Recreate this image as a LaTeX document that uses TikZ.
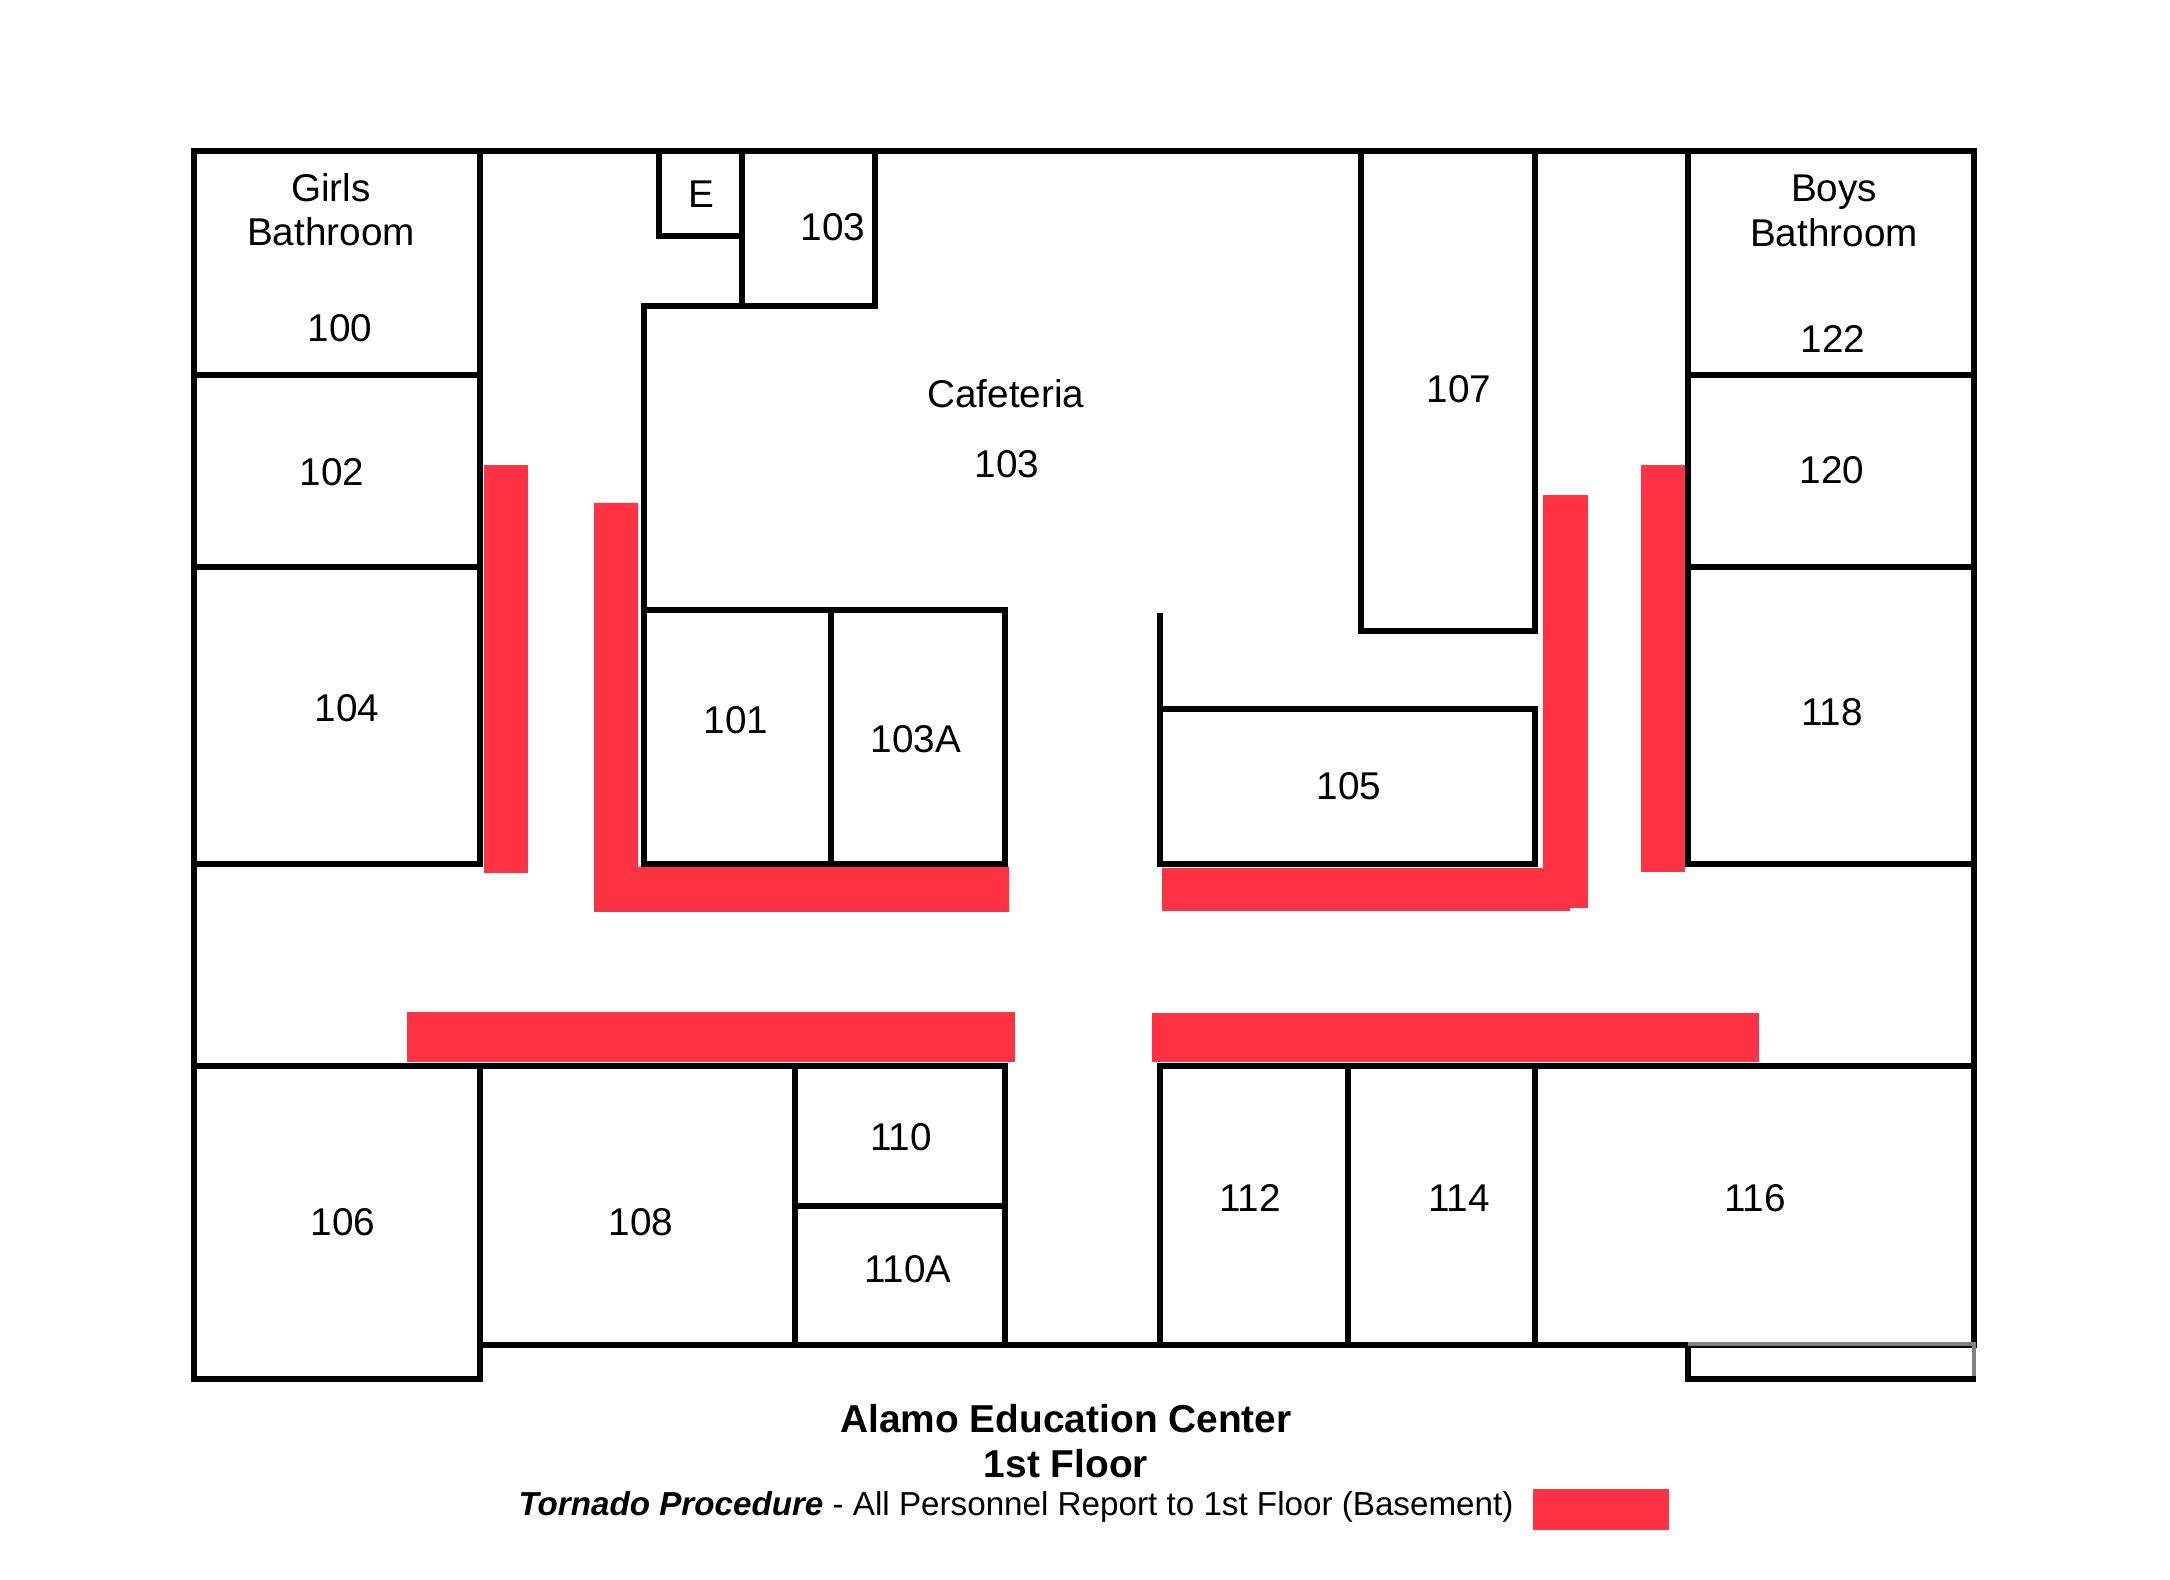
\documentclass[tikz,border=0pt]{standalone}
\usepackage{fontspec}
\setmainfont{Liberation Sans}
\definecolor{shelter}{HTML}{FF3344}
\tikzset{
  wall/.style={line width=1.55pt,line cap=rect},
  oldwall/.style={line width=1.2pt,gray},
  zone/.style={fill=shelter,draw=none},
  room/.style={font=\fontsize{11}{12.6}\selectfont,align=center,inner sep=0pt},
}
\begin{document}
\begin{tikzpicture}[x=0.01cm,y=-0.01cm]
\useasboundingbox (0,0) rectangle (2170,1580);
% shelter areas
\fill[zone] (484,465) rectangle (528,873);
\fill[zone] (594,503) -- (638,503) -- (638,867) -- (1009,867) -- (1009,912) -- (594,912) -- cycle;
\fill[zone] (1162,868) rectangle (1570,911);
\fill[zone] (1543,495) rectangle (1588,908);
\fill[zone] (1641,465) rectangle (1685,872);
\fill[zone] (407,1012) rectangle (1015,1062);
\fill[zone] (1152,1013) rectangle (1759,1062);
\fill[zone] (1533,1489) rectangle (1669,1530);
% outer walls
\draw[wall] (194,151) rectangle (480,375);
\draw[wall] (194,375) rectangle (480,567);
\draw[wall] (194,567) rectangle (480,864);
\draw[wall] (194,864) -- (194,1066);
\draw[wall] (480,151) -- (1688,151);
\draw[wall] (1688,151) rectangle (1974,375);
\draw[wall] (1688,375) rectangle (1974,567);
\draw[wall] (1688,567) rectangle (1974,864);
\draw[wall] (1974,864) -- (1974,1066);
% cafeteria side
\draw[wall] (659,151) -- (659,236) -- (742,236);
\draw[wall] (742,151) rectangle (875,306);
\draw[wall] (644,306) -- (742,306);
\draw[wall] (644,306) -- (644,610);
\draw[wall] (644,610) rectangle (831,864);
\draw[wall] (831,610) rectangle (1005,864);
\draw[wall] (1160,616) -- (1160,709);
\draw[wall] (1160,709) rectangle (1535,864);
\draw[wall] (1361,151) rectangle (1535,631);
% lower rooms
\draw[wall] (194,1066) rectangle (480,1379);
\draw[wall] (480,1066) rectangle (795,1345);
\draw[wall] (795,1066) rectangle (1005,1206);
\draw[wall] (795,1206) rectangle (1005,1345);
\draw[wall] (1160,1066) rectangle (1348,1345);
\draw[wall] (1348,1066) rectangle (1535,1345);
\draw[wall] (1535,1066) rectangle (1974,1345);
\draw[wall] (1005,1345) -- (1160,1345);
\draw[wall] (1688,1345) -- (1688,1379) -- (1973,1379);
\draw[oldwall] (1688,1344) -- (1974,1344) -- (1974,1376);
% labels
\node[room] (girls) at (331,210) {Girls\\Bathroom};
\node[room] (r100) at (340,328) {100};
\node[room] (r102) at (332,472) {102};
\node[room] (r104) at (347,708) {104};
\node[room] (elev) at (701,194) {E};
\node[room] (r103b) at (833,227) {103};
\node[room] (cafe) at (1006,394) {Cafeteria};
\node[room] (r103) at (1007,464) {103};
\node[room] (r101) at (736,720) {101};
\node[room] (r103a) at (916,739) {103A};
\node[room] (r107) at (1459,389) {107};
\node[room] (boys) at (1834,211) {Boys\\Bathroom};
\node[room] (r122) at (1833,339) {122};
\node[room] (r120) at (1832,470) {120};
\node[room] (r118) at (1832,712) {118};
\node[room] (r105) at (1349,786) {105};
\node[room] (r106) at (343,1222) {106};
\node[room] (r108) at (641,1222) {108};
\node[room] (r110) at (901,1137) {110};
\node[room] (r110a) at (908,1269) {110A};
\node[room] (r112) at (1250,1198) {112};
\node[room] (r114) at (1459,1198) {114};
\node[room] (r116) at (1755,1198) {116};
% title
\node[room,font=\fontsize{11.05}{12.6}\selectfont\bfseries] (title) at (1066,1441) {Alamo Education Center\\1st Floor};
\node[room,font=\fontsize{9.44}{12}\selectfont] (legend) at (1016,1507) {\textbf{\textit{Tornado Procedure}} - All Personnel Report to 1st Floor (Basement)};
\end{tikzpicture}
\end{document}
